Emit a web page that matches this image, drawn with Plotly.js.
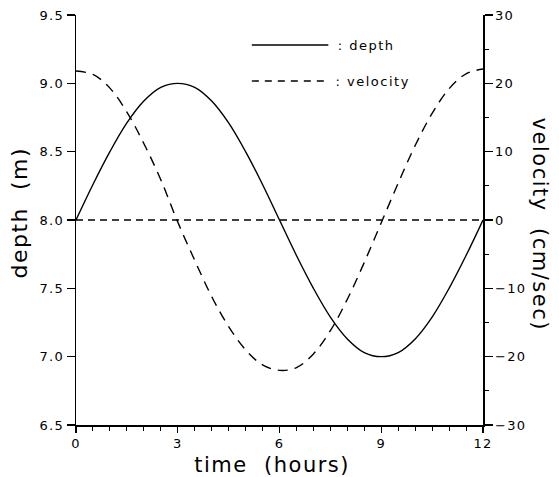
<!DOCTYPE html>
<html>
<head>
<meta charset="utf-8">
<script src="https://cdn.plot.ly/plotly-3.0.1.min.js"></script>
<style>
html,body{margin:0;padding:0;background:#fff;}
#chart{width:559px;height:477px;}
#chart svg text{letter-spacing:1.2px;}
#chart .annotation-text-g text{letter-spacing:1.5px;}
</style>
</head>
<body>
<div id="chart"></div>
<script>
const timeHours = [0,0.5,1,1.5,2,2.5,3,3.5,4,4.5,5,5.5,6,6.5,7,7.5,8,8.5,9,9.5,10,10.5,11,11.5,12];
const depthM = [8.0,8.26,8.5,8.71,8.87,8.97,9.0,8.97,8.87,8.71,8.5,8.26,8.0,7.74,7.5,7.29,7.13,7.03,7.0,7.03,7.13,7.29,7.5,7.74,8.0];
const velocityCms = [21.8,21.3,19.3,15.8,11.2,5.9,-0.3,-5.9,-11.2,-15.6,-19.0,-21.2,-22.0,-21.6,-19.6,-16.2,-11.6,-6.2,-0.4,5.4,10.9,15.6,19.2,21.4,22.1];
const zeroLineT = [0,12];
const zeroLineV = [0,0];
const xTicks = [0,3,6,9,12];
const depthTicks = [6.5,7.0,7.5,8.0,8.5,9.0,9.5];
const velTicks = [-30,-20,-10,0,10,20,30];
const legendLabels = [': depth', ': velocity'];
const axisTitles = {x: 'time  (hours)', y: 'depth  (m)', y2: 'velocity  (cm/sec)'};

const font = 'DejaVu Sans, Verdana, sans-serif';

const traces = [
  {x: timeHours, y: depthM, mode: 'lines', line: {color: '#000', width: 1.4, shape: 'spline'}, xaxis: 'x', yaxis: 'y', showlegend: false},
  {x: timeHours, y: velocityCms, mode: 'lines', line: {color: '#000', width: 1.4, shape: 'spline', dash: '10px,7px'}, xaxis: 'x', yaxis: 'y2', showlegend: false},
  {x: zeroLineT, y: zeroLineV, mode: 'lines', line: {color: '#000', width: 1.4, dash: '7px,5px'}, xaxis: 'x', yaxis: 'y2', showlegend: false}
];

const layout = {
  width: 559, height: 477,
  margin: {l: 76, r: 76, t: 15, b: 52},
  paper_bgcolor: '#fff', plot_bgcolor: '#fff',
  font: {family: font, color: '#000', size: 13},
  xaxis: {
    range: [0, 12], tickvals: xTicks, ticktext: xTicks.map(String),
    showgrid: false, zeroline: false, showline: true, linecolor: '#000', linewidth: 1.5,
    ticks: 'outside', ticklen: 6, tickwidth: 1.2, tickcolor: '#000',
    minor: {dtick: 0.5, ticks: 'outside', ticklen: 4, tickwidth: 1, tickcolor: '#000'},
    tickfont: {size: 13, family: font}
  },
  yaxis: {
    range: [6.5, 9.5], tickvals: depthTicks, ticktext: depthTicks.map(v => v.toFixed(1)),
    showgrid: false, zeroline: false, showline: true, linecolor: '#000', linewidth: 1.5,
    ticks: 'outside', ticklen: 8, tickwidth: 1.2, tickcolor: '#000',
    tickfont: {size: 13, family: font}
  },
  yaxis2: {
    range: [-30, 30], tickvals: velTicks, ticktext: velTicks.map(v => v < 0 ? '\u2212' + Math.abs(v) : String(v)),
    overlaying: 'y', side: 'right', anchor: 'x',
    showgrid: false, zeroline: false, showline: true, linecolor: '#000', linewidth: 1.5,
    ticks: 'outside', ticklen: 8, tickwidth: 1.2, tickcolor: '#000',
    minor: {dtick: 5, ticks: 'outside', ticklen: 4, tickwidth: 1, tickcolor: '#000'},
    tickfont: {size: 13, family: font}
  },
  shapes: [
    {type: 'line', xref: 'paper', yref: 'paper', x0: 0.432, x1: 0.62, y0: 0.927, y1: 0.927, line: {color: '#000', width: 1.4}},
    {type: 'line', xref: 'paper', yref: 'paper', x0: 0.432, x1: 0.615, y0: 0.839, y1: 0.839, line: {color: '#000', width: 1.4, dash: '7px,6px'}}
  ],
  annotations: [
    {xref: 'paper', yref: 'paper', x: 0.652, y: 0.925, text: legendLabels[0], showarrow: false, xanchor: 'left', yanchor: 'middle', font: {size: 13, family: font}},
    {xref: 'paper', yref: 'paper', x: 0.652, y: 0.837, text: legendLabels[1], showarrow: false, xanchor: 'left', yanchor: 'middle', font: {size: 13, family: font}},
    {xref: 'paper', yref: 'paper', x: 0.4816, y: -0.098, text: axisTitles.x, showarrow: false, xanchor: 'center', yanchor: 'middle', font: {size: 21, family: font}},
    {xref: 'paper', yref: 'paper', x: -0.14, y: 0.517, text: axisTitles.y, textangle: -90, showarrow: false, xanchor: 'center', yanchor: 'middle', font: {size: 22, family: font}},
    {xref: 'paper', yref: 'paper', x: 1.14, y: 0.49, text: axisTitles.y2, textangle: 90, showarrow: false, xanchor: 'center', yanchor: 'middle', font: {size: 21, family: font}}
  ]
};

Plotly.newPlot('chart', traces, layout, {displayModeBar: false, staticPlot: true});
</script>
</body>
</html>
